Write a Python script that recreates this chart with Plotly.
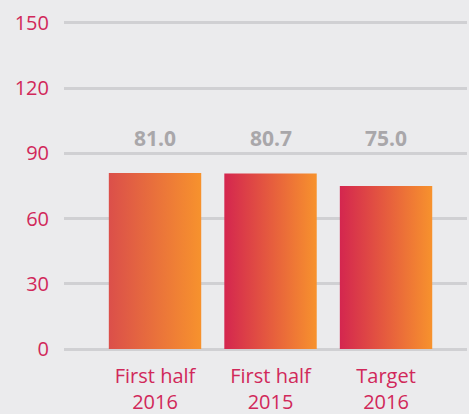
import plotly.graph_objects as go

categories = ["First half<br>2016", "First half<br>2015", "Target<br>2016"]
values = [81.0, 80.7, 75.0]
value_labels = ["81.0", "80.7", "75.0"]
grad_start = ["#db4f4a", "#d4264f", "#d4264f"]
grad_end = ["#f7922d", "#f7922d", "#f7922d"]
y_ticks = [0, 30, 60, 90, 120, 150]

BG = "#ebebed"
PINK = "#d1285a"
GRID = "#d0d0d3"
BAR_W = 0.8
LABEL_Y = 97

fig = go.Figure()
xs = list(range(len(categories)))

# invisible base bars (carry the data)
fig.add_trace(go.Bar(x=xs, y=values, width=BAR_W, marker=dict(color="rgba(0,0,0,0)", line=dict(width=0)),
                     hoverinfo="skip", showlegend=False))

# gradient-filled bars
for i, v in enumerate(values):
    h = BAR_W / 2
    fig.add_trace(go.Scatter(
        x=[i - h, i + h, i + h, i - h, i - h],
        y=[0, 0, v, v, 0],
        mode="lines", line=dict(width=0, color="rgba(0,0,0,0)"),
        fill="toself",
        fillgradient=dict(type="horizontal", colorscale=[[0, grad_start[i]], [1, grad_end[i]]]),
        hoverinfo="skip", showlegend=False))

for i, t in enumerate(value_labels):
    fig.add_annotation(x=i, y=LABEL_Y, text="<b>" + t + "</b>", showarrow=False,
                       font=dict(family="Open Sans", size=21, color="#a9a7aa"), yanchor="middle")

fig.update_layout(
    width=469, height=414,
    margin=dict(l=64, r=2, t=21, b=63, autoexpand=False),
    paper_bgcolor=BG, plot_bgcolor=BG,
    font=dict(family="Open Sans", size=20, color=PINK),
    showlegend=False,
)
fig.update_xaxes(range=[-0.788, 2.701], tickmode="array", tickvals=xs, ticktext=categories,
                 showgrid=False, zeroline=False, showline=False, ticks="", automargin=False,
                 ticklabelstandoff=11, tickfont=dict(size=20, color=PINK))
fig.update_yaxes(range=[-0.9, 150.9], tickmode="array", tickvals=y_ticks,
                 showgrid=True, gridcolor=GRID, gridwidth=2.5, zeroline=False, showline=False,
                 ticks="", automargin=False, ticklabelstandoff=14, tickfont=dict(size=20, color=PINK))

fig.write_html("out.html", config={"displayModeBar": False},
               post_script="document.body.style.margin='0';document.body.style.overflow='hidden';document.body.style.background='%s';" % BG)
